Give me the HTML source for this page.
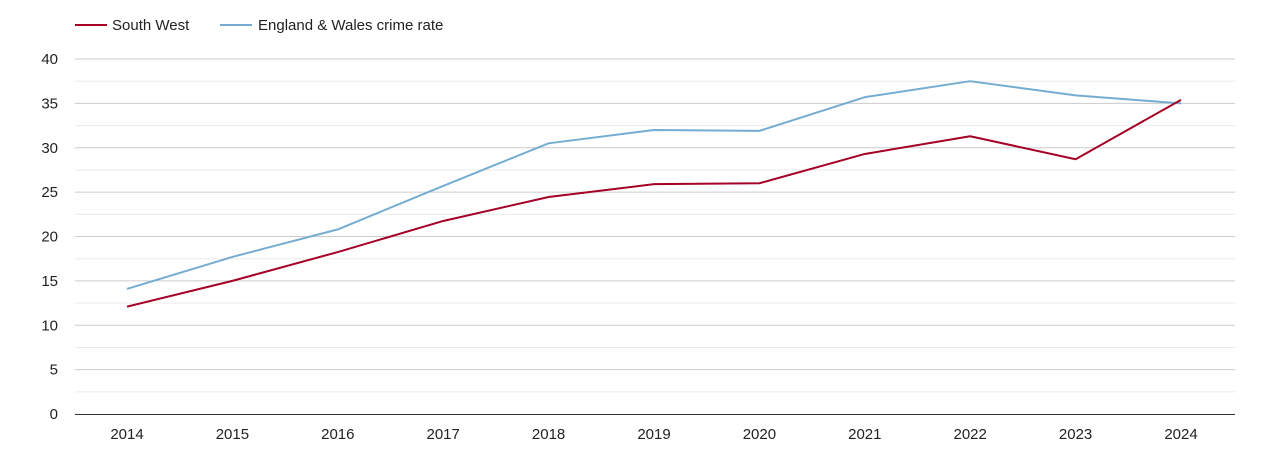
<!DOCTYPE html>
<html>
<head>
<meta charset="utf-8">
<style>
  html,body{margin:0;padding:0;background:#fff;}
  body{width:1270px;height:450px;overflow:hidden;font-family:"Liberation Sans",sans-serif;}
  svg text{font-family:"Liberation Sans",sans-serif;fill:#222;}
</style>
</head>
<body>
<svg id="chart" width="1270" height="450" xmlns="http://www.w3.org/2000/svg">
  <g>
    <g>
      <line x1="75" y1="25" x2="107" y2="25" stroke="#a50026" stroke-width="2"/>
      <text x="112" y="30" font-size="15">South West</text>
    </g>
    <g>
      <line x1="220" y1="25" x2="252" y2="25" stroke="#74add1" stroke-width="2"/>
      <text x="258" y="30" font-size="15">England &amp; Wales crime rate</text>
    </g>
  </g>
  <g id="grid"></g>
  <g id="yaxis"></g>
  <g id="xaxis"></g>
  <g id="series"></g>
</svg>
<script>
const years = [2014,2015,2016,2017,2018,2019,2020,2021,2022,2023,2024];
const southWest = [12.1,15.0,18.25,21.75,24.45,25.9,26.0,29.3,31.3,28.7,35.4];
const englandWales = [14.1,17.7,20.8,25.7,30.5,32.0,31.9,35.7,37.5,35.9,35.0];
const yTicks = [0,5,10,15,20,25,30,35,40];

const NS = "http://www.w3.org/2000/svg";
const left = 75, right = 1235, y0 = 414, y40 = 59;
const x0 = 127, x1 = 1181;
function xs(i){ return x0 + (x1 - x0) * i / (years.length - 1); }
function ys(v){ return y0 - (y0 - y40) * v / 40; }
function mk(tag, attrs, parent){
  const e = document.createElementNS(NS, tag);
  for (const k in attrs) e.setAttribute(k, attrs[k]);
  parent.appendChild(e);
  return e;
}
const grid = document.getElementById('grid');
const yaxis = document.getElementById('yaxis');
const xaxis = document.getElementById('xaxis');
const series = document.getElementById('series');

for (let v = 2.5; v < 40; v += 5) {
  const l = mk('line', {x1:left, x2:right, y1:ys(v), y2:ys(v), stroke:'#ebebeb', 'stroke-width':1}, grid);
  
  
}
yTicks.forEach(v => {
  if (v > 0) {
    const l = mk('line', {x1:left, x2:right, y1:ys(v), y2:ys(v), stroke:'#cccccc', 'stroke-width':1}, grid);
    
    
  }
  const t = mk('text', {x:58, y:ys(v)+5, 'text-anchor':'end', 'font-size':15}, yaxis);
  t.textContent = v;
  
  
});
const base = mk('line', {x1:left, x2:right, y1:y0+0.5, y2:y0+0.5, stroke:'#333', 'stroke-width':1}, xaxis);


years.forEach((yr, i) => {
  const t = mk('text', {x:xs(i), y:439, 'text-anchor':'middle', 'font-size':15}, xaxis);
  t.textContent = yr;
  
  
});
function line(vals, color, name){
  const d = vals.map((v, i) => (i ? 'L' : 'M') + xs(i) + ',' + ys(v)).join(' ');
  const p = mk('path', {d:d, fill:'none', stroke:color, 'stroke-width':2, 'stroke-linejoin':'round'}, series);
  
  
}
line(englandWales, '#74add1', 'england-wales-line');
line(southWest, '#a50026', 'south-west-line');
</script>
</body>
</html>
